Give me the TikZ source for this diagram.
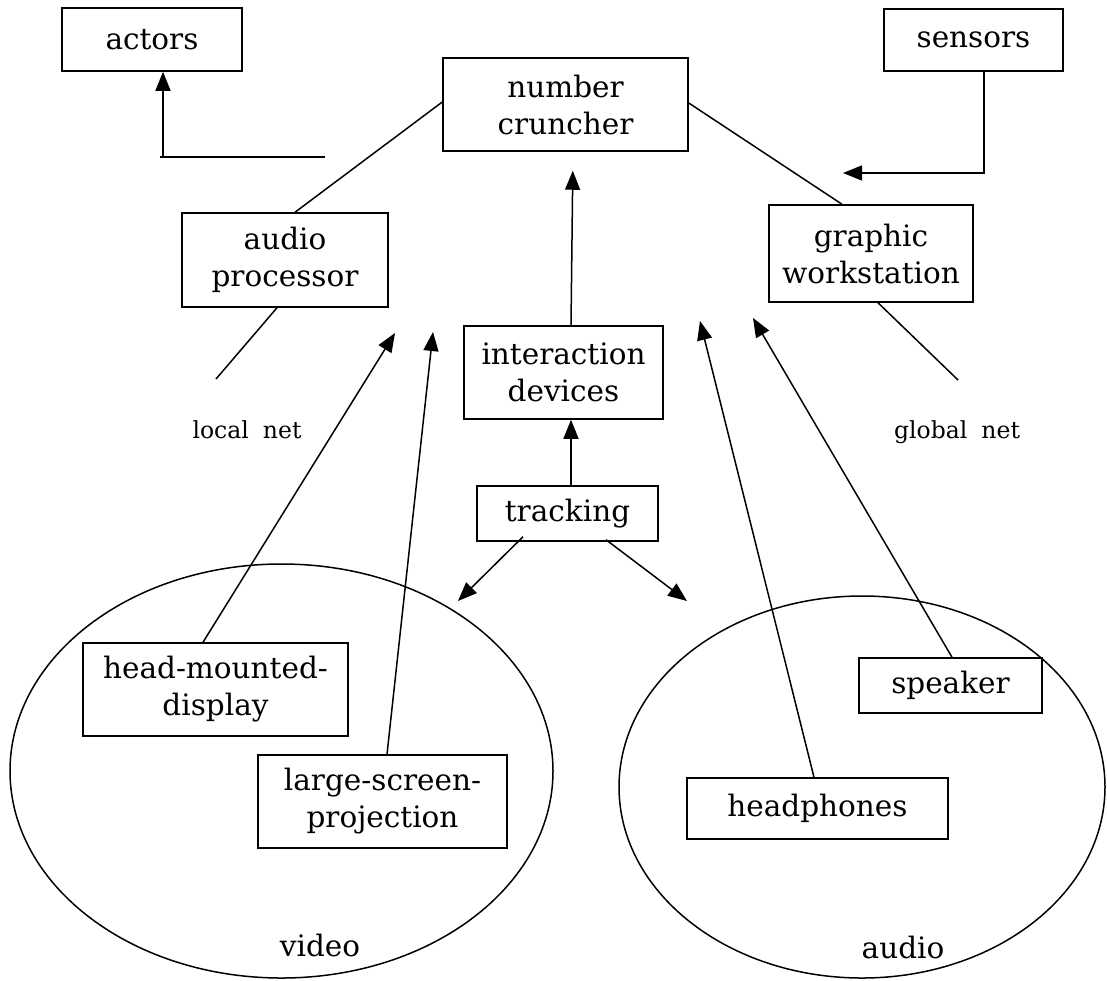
\documentclass[tikz,border=0pt]{standalone}
\usepackage{fontspec}
\setmainfont{DejaVu Serif}
\usetikzlibrary{arrows.meta,shapes.geometric}
\begin{document}
\begin{tikzpicture}[x=1pt,y=-1pt,
  box/.style={draw, line width=1.5pt, align=center, inner sep=0pt, font=\fontsize{29.5}{37}\selectfont},
  lbl/.style={inner sep=0pt, font=\fontsize{23.5}{28}\selectfont},
  big/.style={inner sep=0pt, font=\fontsize{29.5}{34}\selectfont},
  ln/.style={line width=1.5pt},
  arr/.style={line width=1.5pt, -{Triangle[length=19pt,width=15pt]}},
  oval/.style={draw, ellipse, line width=1.5pt, inner sep=0pt}]
\useasboundingbox (0,0) rectangle (1107,980);

% ellipses
\node[oval, minimum width=543pt, minimum height=414pt] (vid) at (281.5,771) {};
\node[oval, minimum width=486pt, minimum height=382pt] (aud) at (862,787) {};

% boxes
\node[box, minimum width=180pt, minimum height=63pt] (act) at (152,39.5) {actors};
\node[box, minimum width=245pt, minimum height=93pt] (nc) at (565.5,104.5) {number\\cruncher};
\node[box, minimum width=179pt, minimum height=62pt] (sen) at (973.5,40) {sensors};
\node[box, minimum width=206pt, minimum height=94pt] (ap) at (285,260) {audio\\processor};
\node[box, minimum width=204pt, minimum height=97pt] (gw) at (871,253.5) {graphic\\workstation};
\node[box, minimum width=199pt, minimum height=93pt] (id) at (563.5,372.5) {interaction\\devices};
\node[box, minimum width=181pt, minimum height=55pt] (tr) at (567.5,513.5) {tracking};
\node[box, minimum width=265pt, minimum height=93pt] (hmd) at (215.5,689.5) {head-mounted-\\display};
\node[box, minimum width=249pt, minimum height=93pt] (lsp) at (382.5,801.5) {large-screen-\\projection};
\node[box, minimum width=183pt, minimum height=55pt] (spk) at (950.5,685.5) {speaker};
\node[box, minimum width=261pt, minimum height=61pt] (hp) at (817.5,808.5) {headphones};

% labels
\node[lbl] (lnet) at (247,430) {local\hspace{0.6em}net};
\node[lbl] (gnet) at (957,432) {global\hspace{0.6em}net};
\node[big] (vlab) at (320,945) {video};
\node[big] (alab) at (903,947) {audio};

% free ends
\coordinate (actL) at (163,157);
\coordinate (actR) at (325,157);
\coordinate (senT) at (843,173);
\coordinate (gwE) at (958,380);
\coordinate (apE) at (216,379);
\coordinate (trL) at (458,601);
\coordinate (trR) at (687,601);
\coordinate (hmdT) at (395,333);
\coordinate (lspT) at (433,332);
\coordinate (hpT) at (700,321);
\coordinate (spkT) at (753,318);

% connectors
\draw[ln] ([xshift=-3pt]actL) -- (actR);
\draw[arr] (actL) -- (actL |- act.south);
\draw[ln] ([yshift=2.5pt]nc.west) -- ([xshift=10pt]ap.north);
\draw[ln] ([yshift=1.5pt]nc.east) -- ([xshift=-29pt]gw.north);
\draw[arr] ([xshift=10.5pt]sen.south) |- (senT);
\draw[ln] ([xshift=7pt]gw.south) -- (gwE);
\draw[ln] ([xshift=-8pt]ap.south) -- (apE);
\draw[arr, shorten >=19pt] ([xshift=7.5pt]id.north) -- ([xshift=7.5pt]nc.south);
\draw[arr] ([xshift=3.5pt]tr.north) -- ([xshift=7.5pt]id.south);
\draw[arr] ([xshift=-44.5pt,yshift=5pt]tr.south) -- (trL);
\draw[arr] ([xshift=38.5pt,yshift=2pt]tr.south) -- (trR);
\draw[arr] ([xshift=-12.5pt]hmd.north) -- (hmdT);
\draw[arr] ([xshift=4.5pt]lsp.north) -- (lspT);
\draw[arr] ([xshift=-3.5pt]hp.north) -- (hpT);
\draw[arr] ([xshift=1.5pt]spk.north) -- (spkT);
\end{tikzpicture}
\end{document}
